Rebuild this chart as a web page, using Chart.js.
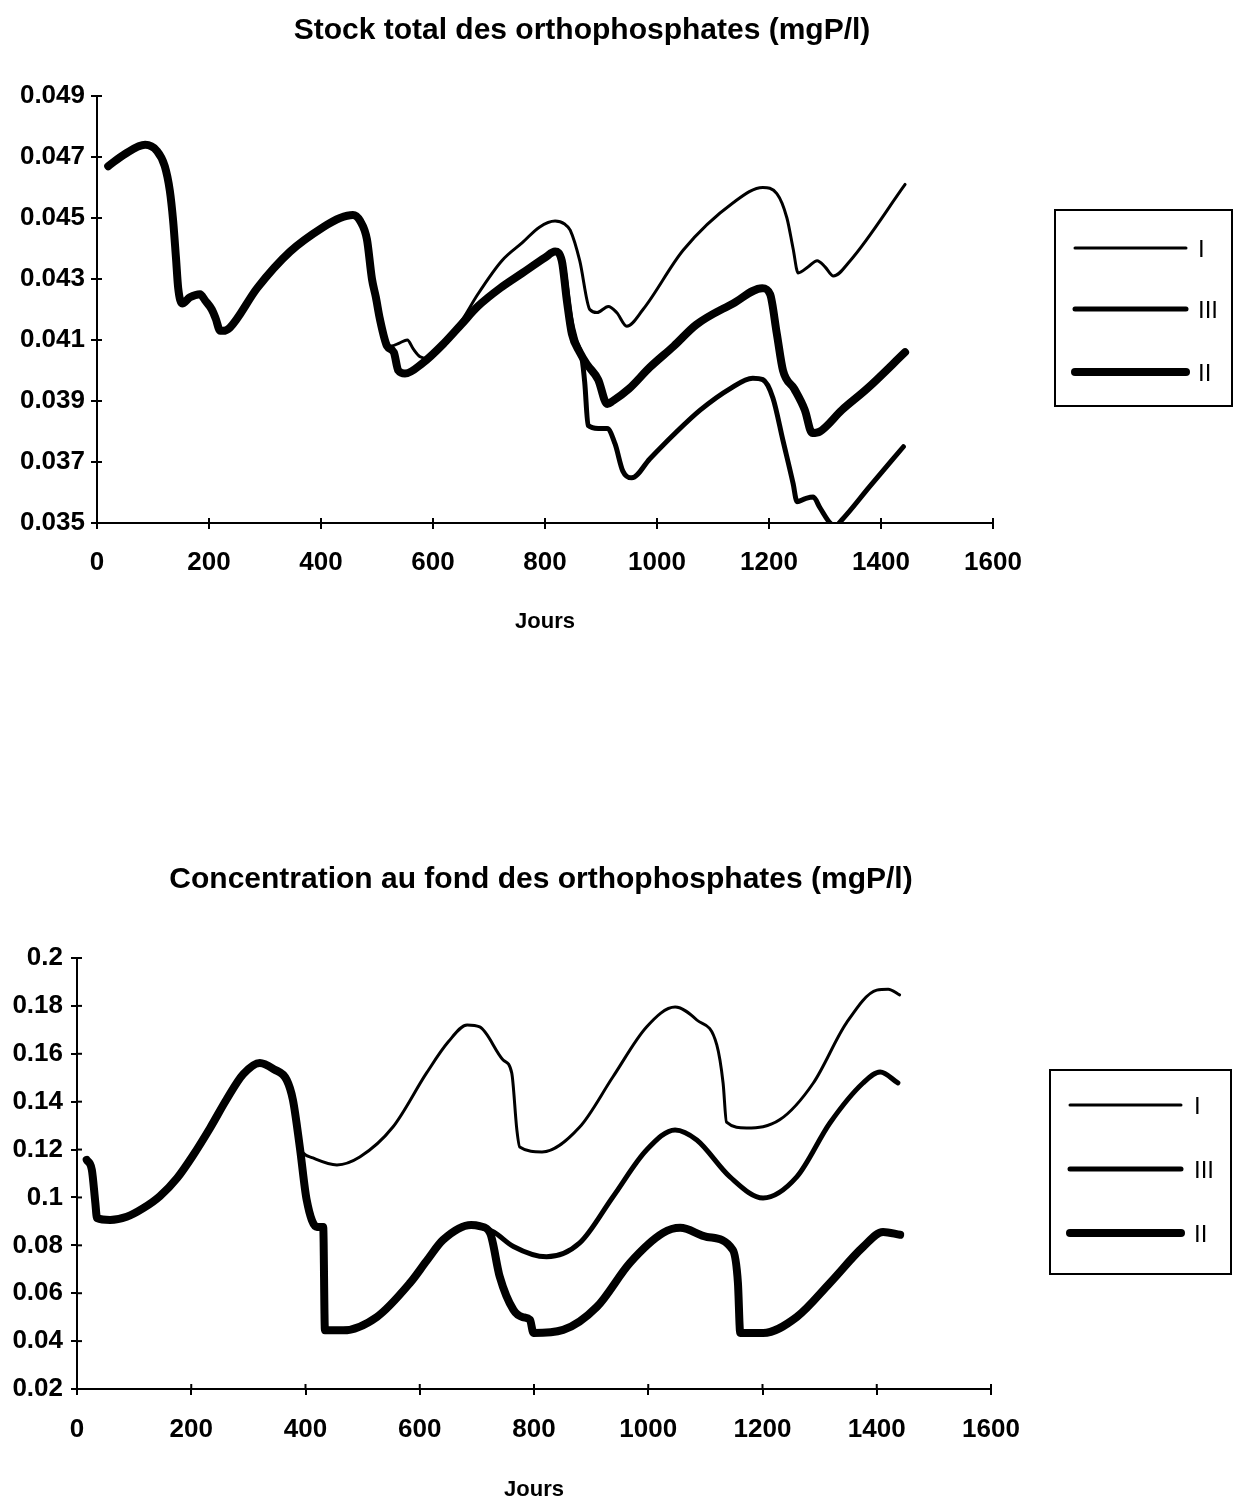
<!DOCTYPE html>
<html>
<head>
<meta charset="utf-8">
<script src="https://cdn.jsdelivr.net/npm/chart.js@4.4.1/dist/chart.umd.min.js"></script>
<style>
  body { margin: 0; background: #fff; }
  canvas { position: absolute; left: 0; }
  #stock { top: 0; }
  #fond { top: 740px; }
</style>
</head>
<body>
<canvas id="stock" width="1240" height="700"></canvas>
<canvas id="fond" width="1240" height="761"></canvas>
<script>
// ---- Stock total des orthophosphates (mgP/l) ----
const stockDaysI = [20, 50, 86, 107, 121, 130, 136, 141, 145, 152, 166, 184, 193, 205, 212, 220, 225, 237, 286, 345, 404, 434, 457,
  470, 482, 491, 500, 511, 525, 540, 554, 565, 577, 590, 620, 650, 680, 723, 760, 790, 818, 835, 845, 862, 880, 893, 913, 928,
  946, 975, 1047, 1136, 1189, 1214, 1232, 1243, 1252, 1270, 1286, 1300, 1315, 1345, 1443];
const stockI = [0.0467, 0.0471, 0.0474, 0.0472, 0.0467, 0.0459, 0.0449, 0.0437, 0.0427, 0.0422, 0.0424, 0.0425, 0.0423, 0.0420, 0.0417, 0.0413, 0.0413, 0.0414, 0.0427, 0.0439, 0.0447, 0.0450, 0.0451,
  0.0450, 0.0445, 0.0434, 0.0422, 0.0410, 0.0408, 0.0409, 0.0410, 0.0407, 0.04045, 0.0404, 0.0409, 0.0416, 0.0425, 0.0436, 0.0442, 0.0447, 0.0449, 0.0448, 0.0446, 0.0436, 0.0420, 0.0419, 0.0421, 0.0419,
  0.04145, 0.0420, 0.04395, 0.0455, 0.0460, 0.0458, 0.0450, 0.0440, 0.0432, 0.0434, 0.0436, 0.0434, 0.0431, 0.0436, 0.0461];

const stockDaysII = [20, 50, 86, 107, 121, 130, 136, 141, 145, 152, 166, 184, 193, 205, 212, 220, 225, 237, 286, 345, 404, 434, 457,
  470, 482, 491, 498, 505, 518, 530, 538, 550, 582, 620, 650, 680, 720, 760, 800, 818, 830, 839, 848, 862, 875, 895, 911, 921,
  950, 987, 1030, 1070, 1136, 1188, 1202, 1214, 1225, 1245, 1264, 1277, 1291, 1330, 1375, 1443];
const stockII = [0.0467, 0.0471, 0.0474, 0.0472, 0.0467, 0.0459, 0.0449, 0.0437, 0.0427, 0.0422, 0.0424, 0.0425, 0.0423, 0.0420, 0.0417, 0.0413, 0.0413, 0.0414, 0.0427, 0.0439, 0.0447, 0.0450, 0.0451,
  0.0449, 0.0443, 0.0430, 0.0424, 0.0417, 0.0408, 0.0406, 0.0400, 0.0399, 0.04025, 0.0409, 0.0415, 0.0421, 0.0427, 0.0432, 0.0437, 0.0439, 0.0436, 0.0423, 0.0412, 0.0406, 0.0402, 0.0397, 0.0389, 0.0390,
  0.0394, 0.0401, 0.0408, 0.0415, 0.0422, 0.0427, 0.0425, 0.0412, 0.0400, 0.0394, 0.0387, 0.03795, 0.0380, 0.0387, 0.0394, 0.0406];

const stockDaysIII = [20, 50, 86, 107, 121, 130, 136, 141, 145, 152, 166, 184, 193, 205, 212, 220, 225, 237, 286, 345, 404, 434, 457,
  470, 482, 491, 498, 505, 518, 530, 538, 550, 582, 620, 650, 680, 720, 760, 800, 818, 830, 835, 845, 855, 866, 871, 877, 895,
  911, 925, 939, 955, 987, 1030, 1077, 1130, 1171, 1189, 1207, 1225, 1243, 1250, 1265, 1279, 1291, 1309, 1318, 1330, 1380, 1440];
const stockIII = [0.0467, 0.0471, 0.0474, 0.0472, 0.0467, 0.0459, 0.0449, 0.0437, 0.0427, 0.0422, 0.0424, 0.0425, 0.0423, 0.0420, 0.0417, 0.0413, 0.0413, 0.0414, 0.0427, 0.0439, 0.0447, 0.0450, 0.0451,
  0.0449, 0.0443, 0.0430, 0.0424, 0.0417, 0.0408, 0.0406, 0.0400, 0.0399, 0.04025, 0.0409, 0.0415, 0.0421, 0.0427, 0.0432, 0.0437, 0.0439, 0.0436, 0.0432, 0.0418, 0.0410, 0.0404, 0.0396, 0.0382, 0.0381,
  0.0381, 0.0376, 0.0367, 0.03648, 0.0371, 0.0379, 0.0387, 0.0394, 0.03975, 0.0397, 0.0391, 0.0377, 0.0363, 0.0357, 0.0358, 0.03585, 0.0355, 0.0350, 0.0349, 0.0351, 0.0362, 0.0375];

// ---- Concentration au fond des orthophosphates (mgP/l) ----
const fondDaysI = [17, 26, 32, 35, 58, 87, 116, 145, 175, 203, 233, 262, 291, 320, 345, 367, 378, 390,
  396, 413, 455, 495, 553, 612, 650, 683, 705, 746, 761, 770, 775, 814, 880, 938, 997, 1047, 1085, 1120,
  1131, 1137, 1172, 1230, 1289, 1347, 1400, 1420, 1440];
const fondI = [0.1157, 0.1115, 0.098, 0.0914, 0.0906, 0.0919, 0.0955, 0.1005, 0.1080, 0.1175, 0.1290, 0.1410, 0.1515, 0.1562, 0.1535, 0.1491, 0.1407, 0.1211,
  0.1186, 0.1165, 0.1136, 0.1169, 0.1294, 0.152, 0.165, 0.172, 0.1712, 0.1574, 0.152, 0.1282, 0.1211, 0.119, 0.1294, 0.1503, 0.1712, 0.1795, 0.1741, 0.1637,
  0.1478, 0.1315, 0.129, 0.1324, 0.1478, 0.1729, 0.1866, 0.1870, 0.1846];

const fondDaysII = [17, 26, 32, 35, 58, 87, 116, 145, 175, 203, 233, 262, 291, 320, 345, 367, 378, 390,
  402, 420, 431, 434, 466, 525, 583, 612, 641, 690, 705, 723, 740, 764, 780, 793, 799, 851, 910, 968, 1026,
  1056, 1103, 1148, 1157, 1161, 1201, 1260, 1318, 1376, 1411, 1441];
const fondII = [0.1157, 0.1115, 0.098, 0.0914, 0.0906, 0.0919, 0.0955, 0.1005, 0.1080, 0.1175, 0.1290, 0.1410, 0.1515, 0.1562, 0.1535, 0.1491, 0.1407, 0.1211,
  0.0990, 0.0877, 0.0877, 0.0445, 0.0445, 0.0501, 0.0643, 0.0735, 0.0823, 0.0885, 0.0880, 0.0852, 0.0669, 0.053, 0.050, 0.0489, 0.0434, 0.0447, 0.0543, 0.0727, 0.0852,
  0.0873, 0.0835, 0.0781, 0.0643, 0.0434, 0.0434, 0.0501, 0.0643, 0.0793, 0.0856, 0.0844];

const fondDaysIII = [17, 26, 32, 35, 58, 87, 116, 145, 175, 203, 233, 262, 291, 320, 345, 367, 378, 390,
  402, 420, 431, 434, 466, 525, 583, 612, 641, 690, 705, 730, 764, 822, 880, 938, 997, 1047, 1085, 1143,
  1201, 1260, 1318, 1376, 1406, 1437];
const fondIII = [0.1157, 0.1115, 0.098, 0.0914, 0.0906, 0.0919, 0.0955, 0.1005, 0.1080, 0.1175, 0.1290, 0.1410, 0.1515, 0.1562, 0.1535, 0.1491, 0.1407, 0.1211,
  0.0990, 0.0877, 0.0877, 0.0445, 0.0445, 0.0501, 0.0643, 0.0735, 0.0823, 0.0885, 0.0880, 0.0855, 0.0795, 0.0752, 0.0810, 0.1002, 0.1198, 0.1282, 0.1240, 0.1086,
  0.0998, 0.1086, 0.1311, 0.1478, 0.1524, 0.1478];

const seriesLabels = ['I', 'III', 'II'];
const stockTitle = 'Stock total des orthophosphates (mgP/l)';
const fondTitle = 'Concentration au fond des orthophosphates (mgP/l)';
const xLabel = 'Jours';

const FONT = '"Liberation Sans", Arial, sans-serif';

function toPoints(days, vals) {
  return days.map((d, i) => ({ x: d, y: vals[i] }));
}

// Title drawn at a fixed spot above the plot
const pageTitle = {
  id: 'pageTitle',
  afterDraw(chart, args, opts) {
    const ctx = chart.ctx;
    ctx.save();
    ctx.font = opts.font;
    ctx.fillStyle = '#000';
    ctx.textAlign = 'center';
    ctx.textBaseline = 'middle';
    ctx.fillText(opts.text, opts.x, opts.y);
    ctx.restore();
  }
};

// Boxed legend on the right, line samples taken from the datasets
const frameLegend = {
  id: 'frameLegend',
  afterDraw(chart, args, opts) {
    const ctx = chart.ctx;
    const [bx, by, bw, bh] = opts.box;
    ctx.save();
    ctx.strokeStyle = '#000';
    ctx.lineWidth = 2;
    ctx.strokeRect(bx, by, bw, bh);
    ctx.font = opts.font;
    ctx.fillStyle = '#000';
    ctx.textBaseline = 'middle';
    chart.data.datasets.forEach((ds, i) => {
      const y = opts.rows[i];
      ctx.beginPath();
      ctx.lineCap = 'round';
      ctx.lineWidth = ds.borderWidth;
      ctx.moveTo(opts.lineX[0], y);
      ctx.lineTo(opts.lineX[1], y);
      ctx.stroke();
      ctx.fillText(ds.label, opts.labelX, y + 2);
    });
    ctx.restore();
  }
};

// Small tick marks pointing into the plot (the axes show crosses)
const innerTicks = {
  id: 'innerTicks',
  afterDraw(chart) {
    const ctx = chart.ctx;
    const { x, y } = chart.scales;
    ctx.save();
    ctx.strokeStyle = '#000';
    ctx.lineWidth = 2;
    x.ticks.forEach(t => {
      const px = x.getPixelForValue(t.value);
      ctx.beginPath();
      ctx.moveTo(px, y.bottom);
      ctx.lineTo(px, y.bottom - 5);
      ctx.stroke();
    });
    y.ticks.forEach(t => {
      const py = y.getPixelForValue(t.value);
      ctx.beginPath();
      ctx.moveTo(x.left, py);
      ctx.lineTo(x.left + 5, py);
      ctx.stroke();
    });
    ctx.restore();
  }
};

function makeDatasets(daysI, valsI, daysIII, valsIII, daysII, valsII) {
  const base = {
    borderColor: '#000',
    pointRadius: 0,
    fill: false,
    cubicInterpolationMode: 'monotone',
    borderCapStyle: 'round',
    borderJoinStyle: 'round'
  };
  return [
    Object.assign({}, base, { label: seriesLabels[0], data: toPoints(daysI, valsI), borderWidth: 3 }),
    Object.assign({}, base, { label: seriesLabels[1], data: toPoints(daysIII, valsIII), borderWidth: 5 }),
    Object.assign({}, base, { label: seriesLabels[2], data: toPoints(daysII, valsII), borderWidth: 8 })
  ];
}

function axisOptions(cfg) {
  return {
    x: {
      type: 'linear',
      min: 0,
      max: 1600,
      ticks: {
        stepSize: 200, color: '#000', font: { family: FONT, size: 26, weight: 'bold' }, padding: cfg.xPad, maxRotation: 0,
        callback: v => String(v)
      },
      grid: { drawOnChartArea: false, tickLength: 6, color: '#000', lineWidth: 2 },
      border: { color: '#000', width: 2 },
      title: { display: true, text: xLabel, color: '#000', font: { family: FONT, size: 22, weight: 'bold', lineHeight: 1 }, padding: 0 },
      afterFit(scale) { scale.height = cfg.xHeight; }
    },
    y: {
      min: cfg.yMin,
      max: cfg.yMax,
      ticks: {
        stepSize: cfg.yStep,
        color: '#000',
        font: { family: FONT, size: 26, weight: 'bold' },
        padding: cfg.yPad,
        callback: cfg.yFormat
      },
      grid: { drawOnChartArea: false, tickLength: 6, color: '#000', lineWidth: 2 },
      border: { color: '#000', width: 2 },
      afterFit(scale) { scale.width = cfg.yWidth; }
    }
  };
}

new Chart(document.getElementById('stock'), {
  type: 'line',
  data: { datasets: makeDatasets(stockDaysI, stockI, stockDaysIII, stockIII, stockDaysII, stockII) },
  options: {
    responsive: false,
    animation: false,
    layout: { padding: { left: 0, top: 96, right: 247, bottom: 67 } },
    plugins: {
      legend: { display: false },
      tooltip: { enabled: false },
      pageTitle: { text: stockTitle, x: 582, y: 31, font: 'bold 30px ' + FONT },
      frameLegend: { box: [1055, 210, 177, 196], rows: [248, 309, 372], lineX: [1075, 1186], labelX: 1198, font: '24px ' + FONT }
    },
    scales: axisOptions({
      xPad: 18, xHeight: 110, yWidth: 97, yPad: 6,
      yMin: 0.035, yMax: 0.049, yStep: 0.002,
      yFormat: v => v.toFixed(3)
    })
  },
  plugins: [pageTitle, frameLegend, innerTicks]
});

new Chart(document.getElementById('fond'), {
  type: 'line',
  data: { datasets: makeDatasets(fondDaysI, fondI, fondDaysIII, fondIII, fondDaysII, fondII) },
  options: {
    responsive: false,
    animation: false,
    layout: { padding: { left: 0, top: 218, right: 249, bottom: 0 } },
    plugins: {
      legend: { display: false },
      tooltip: { enabled: false },
      pageTitle: { text: fondTitle, x: 541, y: 140, font: 'bold 30px ' + FONT },
      frameLegend: { box: [1050, 330, 181, 204], rows: [365, 429, 493], lineX: [1070, 1181], labelX: 1194, font: '24px ' + FONT }
    },
    scales: axisOptions({
      xPad: 19, xHeight: 112, yWidth: 77, yPad: 8,
      yMin: 0.02, yMax: 0.2, yStep: 0.02,
      yFormat: v => String(Math.round(v * 1000) / 1000)
    })
  },
  plugins: [pageTitle, frameLegend, innerTicks]
});
</script>
</body>
</html>
